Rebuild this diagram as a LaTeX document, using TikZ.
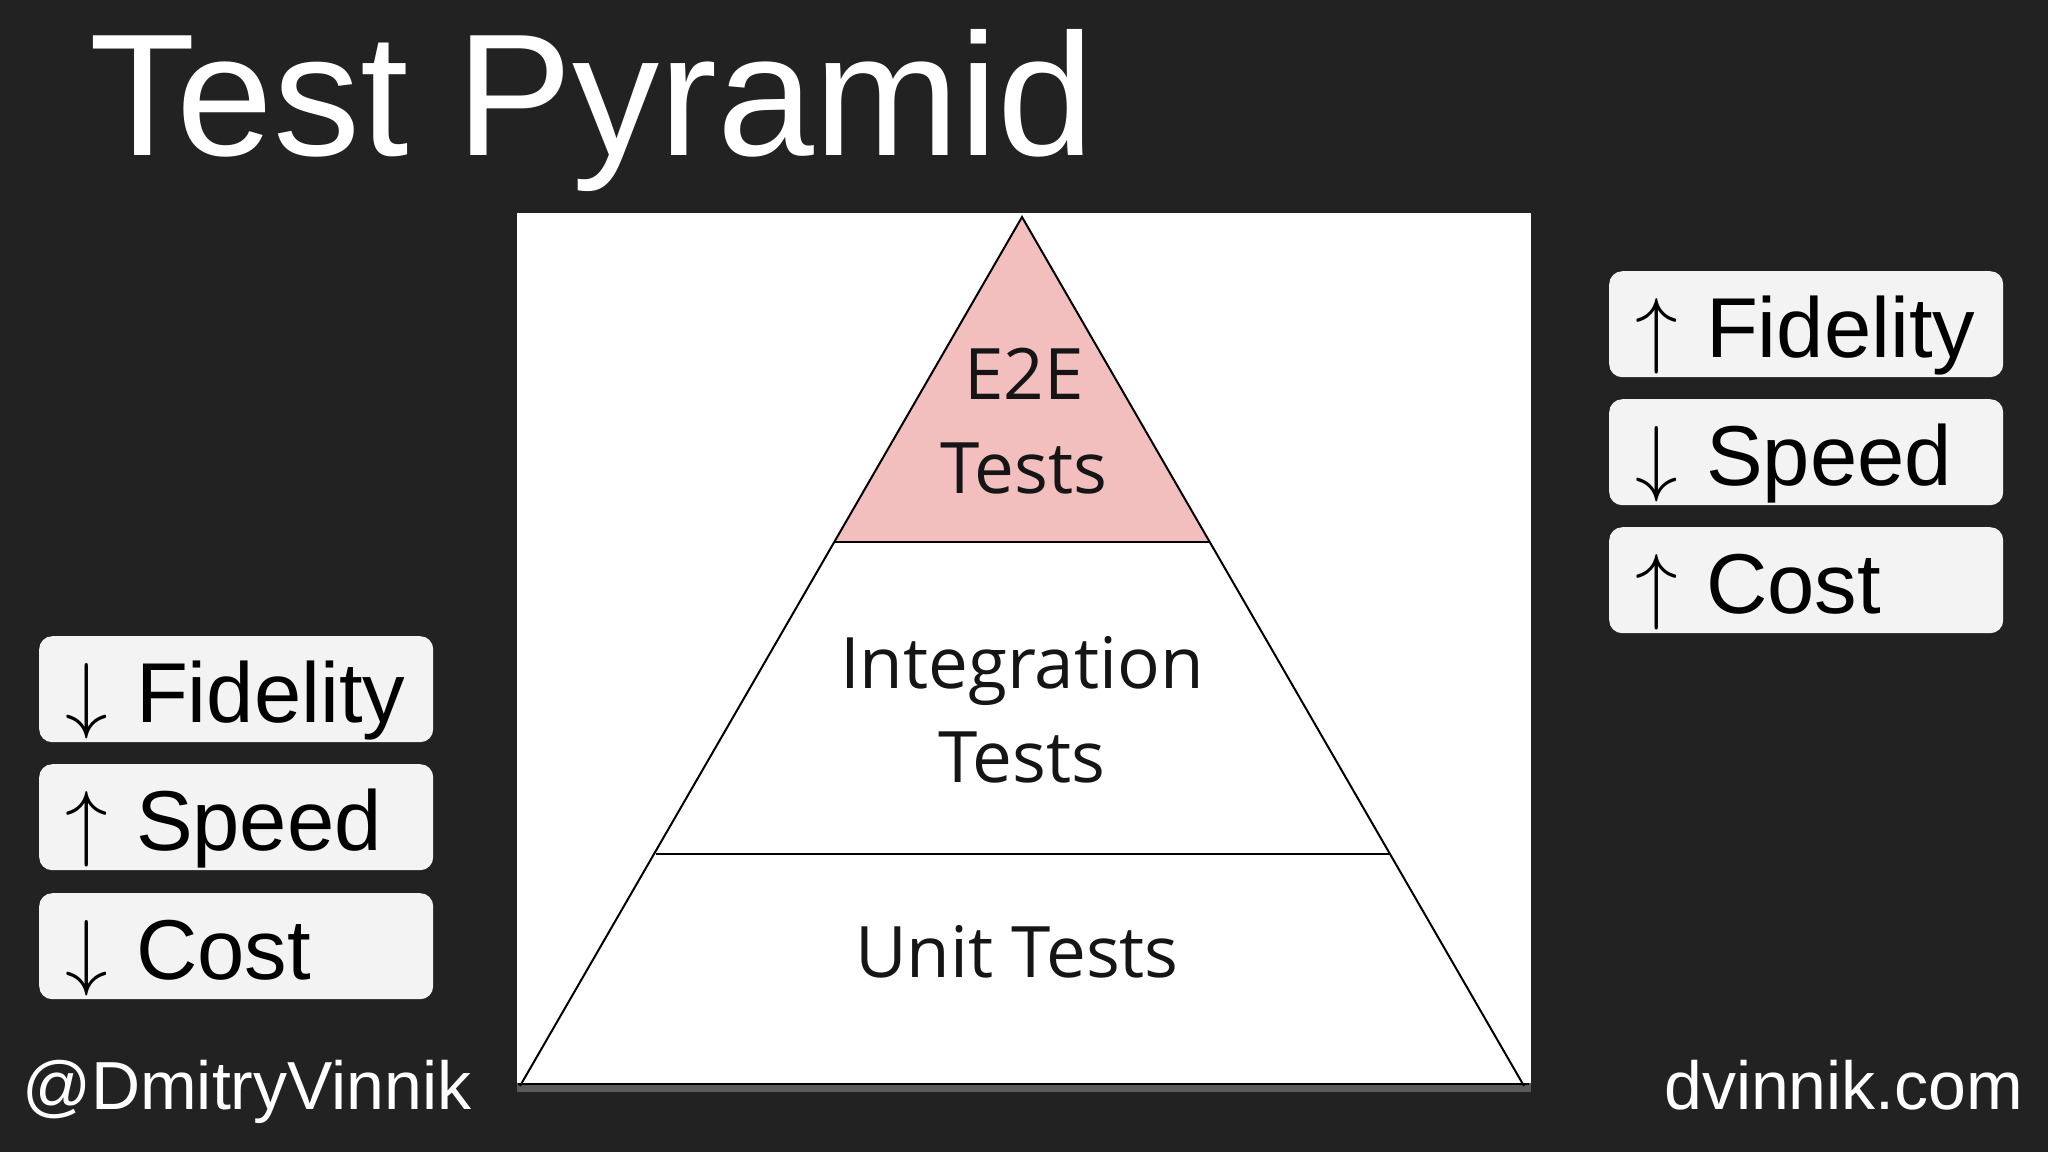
\RequirePackage{fix-cm}
\documentclass[tikz,border=0pt]{standalone}
\usepackage{fontspec}
\newfontfamily\arial{Liberation Sans}
\newfontfamily\opensans{Open Sans}
\definecolor{bg}{HTML}{222222}
\definecolor{boxfill}{HTML}{F3F3F3}
\definecolor{pinkfill}{HTML}{F2BEBE}
\definecolor{band}{HTML}{5A5A5A}
\definecolor{ink}{HTML}{151515}
\newcommand{\upar}{$\uparrow$}
\newcommand{\dnar}{$\downarrow$}
\begin{document}
\begin{tikzpicture}[x=1pt,y=-1pt,
  statbox/.style={fill=boxfill, rounded corners=13pt, anchor=north west,
    inner xsep=26pt, inner ysep=0pt, text width=342pt, align=left,
    text height=86pt, text depth=20pt, text=black,
    font=\arial\fontsize{85}{100}\selectfont},
  layer/.style={font=\opensans\fontsize{71}{94}\selectfont, text=ink,
    align=center, inner sep=0pt, anchor=base},
  footer/.style={font=\arial\fontsize{68}{80}\selectfont, text=white,
    inner sep=0pt, anchor=base west},
  edge/.style={line width=2pt, draw=black, line join=miter}]
\useasboundingbox (0,0) rectangle (2048,1152);
\fill[bg] (0,0) rectangle (2048,1152);
% title
\node[font=\arial\fontsize{174}{200}\selectfont, text=white, inner sep=0pt,
  anchor=base west] (title) at (89,155) {Test Pyramid};
% white panel
\fill[white] (517,213) rectangle (1531,1092);
\fill[band] (517,1083) rectangle (1531,1092);
% pyramid
\fill[pinkfill] (1022,217) -- (835,542) -- (1210,542) -- cycle;
\draw[edge] (520,1086) -- (1022,217) -- (1524,1086);
\draw[edge, line width=2.5pt] (835,542) -- (1210,542);
\draw[edge, line width=2.5pt] (656,854) -- (1389,854);
\draw[edge, line width=2.5pt] (518,1084) -- (1529,1084);
% layer labels (base anchor = baseline of last line)
\node[layer] (e2e) at (1024,493) {E2E\\Tests};
\node[layer] (integ) at (1022,782) {Integration\\Tests};
\node[layer] (unit) at (1017,977) {Unit Tests};
% right boxes
\node[statbox] (rf) at (1609,271) {\upar{} Fidelity};
\node[statbox] (rs) at (1609,399) {\dnar{} Speed};
\node[statbox] (rc) at (1609,527) {\upar{} Cost};
% left boxes
\node[statbox] (lf) at (39,636) {\dnar{} Fidelity};
\node[statbox] (ls) at (39,764) {\upar{} Speed};
\node[statbox] (lc) at (39,893) {\dnar{} Cost};
% footer
\node[footer] (handle) at (22,1109) {@DmitryVinnik};
\node[footer] (site) at (1664,1109) {dvinnik.com};
\end{tikzpicture}
\end{document}
